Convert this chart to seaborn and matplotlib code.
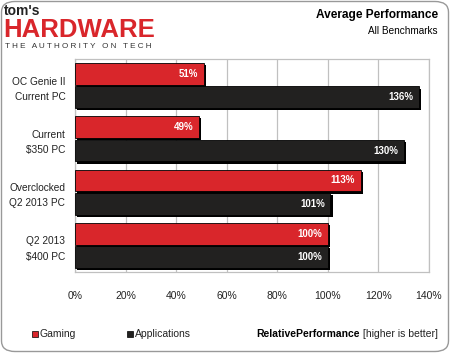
import pandas as pd
import matplotlib.pyplot as plt
import matplotlib.patheffects as pe
from matplotlib.patches import FancyBboxPatch, Rectangle
from matplotlib.ticker import MultipleLocator, FixedLocator
import seaborn as sns

# Dados do gráfico
categories = ["OC Genie II\nCurrent PC", "Current\n$350 PC",
              "Overclocked\nQ2 2013 PC", "Q2 2013\n$400 PC"]
series_names = ["Gaming", "Applications"]
gaming = [51, 49, 113, 100]
applications = [136, 130, 101, 100]
x_ticks = [0, 20, 40, 60, 80, 100, 120, 140]

red = "#d9262b"
dark = "#222120"
grid_gray = "#c0c0c0"

df = pd.DataFrame({
    "system": categories * 2,
    "kind": [series_names[0]] * 4 + [series_names[1]] * 4,
    "value": gaming + applications,
})

sns.set_style("white")
plt.rcParams["font.family"] = ["Liberation Sans", "DejaVu Sans"]

fig = plt.figure(figsize=(4.5, 3.53), dpi=100)
ax = fig.add_axes([75 / 450, 1 - 272 / 353, (429 - 75) / 450, (272 - 59) / 353])

sns.barplot(data=df, y="system", x="value", hue="kind", orient="h",
            palette=[red, dark], saturation=1, width=0.88, gap=0.07,
            edgecolor="black", linewidth=0.6, legend=False, ax=ax, zorder=3)

# sombra preta nas barras + rótulos
for cont in ax.containers:
    for bar in cont:
        bar.set_path_effects([pe.SimplePatchShadow(offset=(1.6, -1.6), shadow_rgbFace="black", alpha=1),
                              pe.Normal()])
        w = bar.get_width()
        y = bar.get_y() + bar.get_height() / 2
        ax.text(w - 2.2, y, f"{w:.0f}%", color="white", fontsize=7, fontweight="bold",
                ha="right", va="center", zorder=5)

ax.set_xlim(0, 140)
ax.set_ylim(3.5, -0.5)
ax.set_xticks(x_ticks)
ax.set_xticklabels([f"{t}%" for t in x_ticks], fontsize=7.5, color="#222222")
ax.xaxis.set_minor_locator(MultipleLocator(4))
ax.grid(axis="x", color=grid_gray, linewidth=0.9, zorder=0)
ax.set_axisbelow(True)
ax.tick_params(axis="x", which="major", length=0, pad=14)
ax.tick_params(axis="x", which="minor", length=2, color=grid_gray, direction="out")
ax.tick_params(axis="y", which="major", length=0, pad=7, labelsize=7.3, labelcolor="#222222")
ax.yaxis.set_minor_locator(FixedLocator([0.5, 1.5, 2.5]))
ax.tick_params(axis="y", which="minor", length=3, color=grid_gray, direction="out")
for lbl in ax.get_yticklabels():
    lbl.set_horizontalalignment("right")
    lbl.set_multialignment("right")
    lbl.set_linespacing(1.65)
for s in ax.spines.values():
    s.set_color(grid_gray)
    s.set_linewidth(0.9)
ax.set_xlabel("")
ax.set_ylabel("")

# moldura arredondada
fig.add_artist(FancyBboxPatch((1.5 / 450, 1.5 / 353), 447 / 450, 350 / 353,
                              boxstyle="round,pad=0,rounding_size=0.03",
                              transform=fig.transFigure, facecolor="none",
                              edgecolor="#999999", linewidth=1.0))

# logo
fig.text(4 / 450, 1 - 11 / 353, "tom's", fontsize=10, fontweight="bold", color="#222222",
         va="center", ha="left")
fig.text(3 / 450, 1 - 30 / 353, "HARDWARE", fontsize=18.5, fontweight="bold", color=red,
         va="center", ha="left", family=["Liberation Sans Narrow", "Liberation Sans"])
fig.text(5 / 450, 1 - 47 / 353, "T H E   A U T H O R I T Y   O N   T E C H", fontsize=5.9,
         color="#333333", va="center", ha="left")

# título
fig.text(438 / 450, 1 - 15 / 353, "Average Performance", fontsize=8.6, fontweight="bold",
         color="black", ha="right", va="center")
fig.text(438 / 450, 1 - 31 / 353, "All Benchmarks", fontsize=7.2, color="black",
         ha="right", va="center")

# legenda
for xpos, name, col in [(32, series_names[0], red), (127, series_names[1], dark)]:
    fig.add_artist(Rectangle((xpos / 450, 1 - 337 / 353), 6 / 450, 6 / 353,
                             transform=fig.transFigure, facecolor=col,
                             edgecolor="black", linewidth=0.5))
    fig.text((xpos + 8) / 450, 1 - 334 / 353, name, fontsize=7.5, color="#222222",
             ha="left", va="center")

t_reg = fig.text(438 / 450, 1 - 334 / 353, " [higher is better]", fontsize=7.5,
                 color="#222222", ha="right", va="center")
renderer = fig.canvas.get_renderer()
bb = t_reg.get_window_extent(renderer)
fig.text(bb.x0 / fig.bbox.width, 1 - 334 / 353, "RelativePerformance", fontsize=7.5,
         fontweight="bold", color="black", ha="right", va="center")

plt.savefig("out.png", dpi=100)
